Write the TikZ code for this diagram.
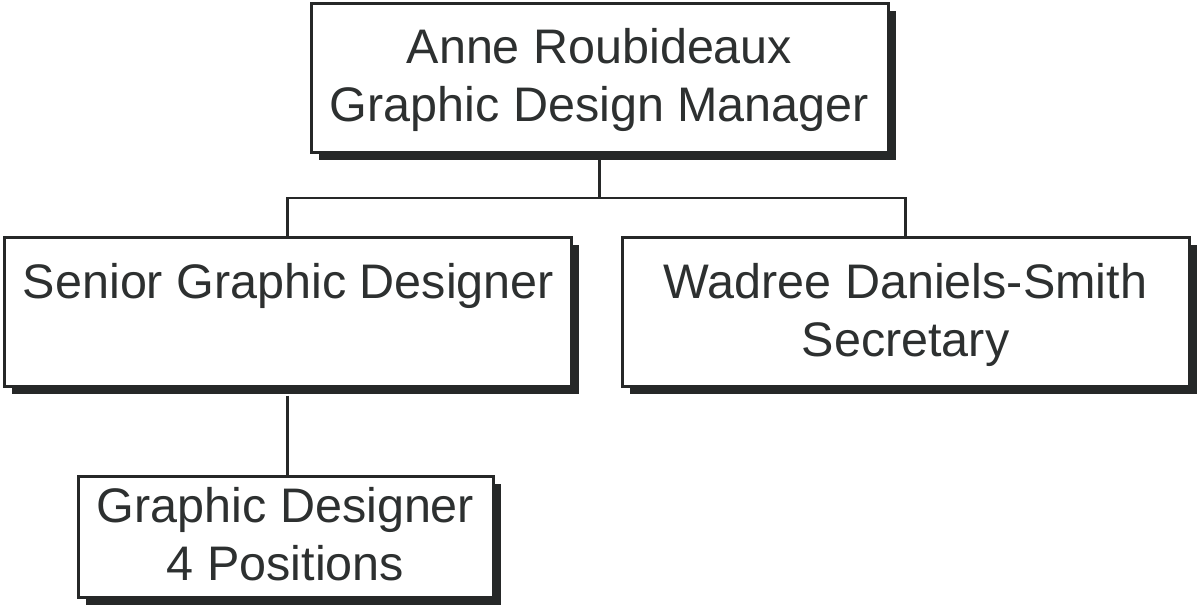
\documentclass[tikz,border=0pt]{standalone}
\usepackage{fontspec}
\setmainfont{Liberation Sans}
\usetikzlibrary{shadows}
\definecolor{ink}{RGB}{38,40,40}
\definecolor{txtc}{RGB}{45,48,48}
\begin{document}
\begin{tikzpicture}[x=1pt,y=-1pt,
  orgbox/.style={draw=ink, line width=3pt, fill=white, rectangle, inner sep=0pt,
    drop shadow={shadow xshift=8pt, shadow yshift=-8pt, fill=ink, opacity=1}},
  lbl/.style={anchor=base, inner sep=0pt, text=txtc, font=\fontsize{48.5}{58}\selectfont},
  conn/.style={draw=ink, line width=2.5pt}]
\useasboundingbox (0,0) rectangle (1197,605);
% boxes
\node[orgbox, minimum width=577pt, minimum height=149pt] (top) at (599.5,77.5) {};
\node[orgbox, minimum width=567pt, minimum height=149pt] (sgd) at (287.5,311.5) {};
\node[orgbox, minimum width=567pt, minimum height=149pt] (sec) at (905.5,311.5) {};
\node[orgbox, minimum width=415pt, minimum height=121pt] (gd) at (285.5,536.5) {};
% texts
\node[lbl] (t1) at (599.5,63) {Anne Roubideaux};
\node[lbl] (t2) at (599.5,121) {Graphic Design Manager};
\node[lbl] (t3) at (288.5,298) {Senior Graphic Designer};
\node[lbl] (t4) at (905.5,298) {Wadree Daniels-Smith};
\node[lbl] (t5) at (905.5,356) {Secretary};
\node[lbl] (t6) at (285.5,522) {Graphic Designer};
\node[lbl] (t7) at (285.5,580) {4 Positions};
% connectors
\coordinate (bus) at (599.5,198);
\draw[conn] (top.south) -- (bus);
\draw[conn] (sgd.north) |- (bus) -| (sec.north);
\draw[conn] (sgd.south) ++(0,8) -- (sgd.south |- gd.north);
\end{tikzpicture}
\end{document}
